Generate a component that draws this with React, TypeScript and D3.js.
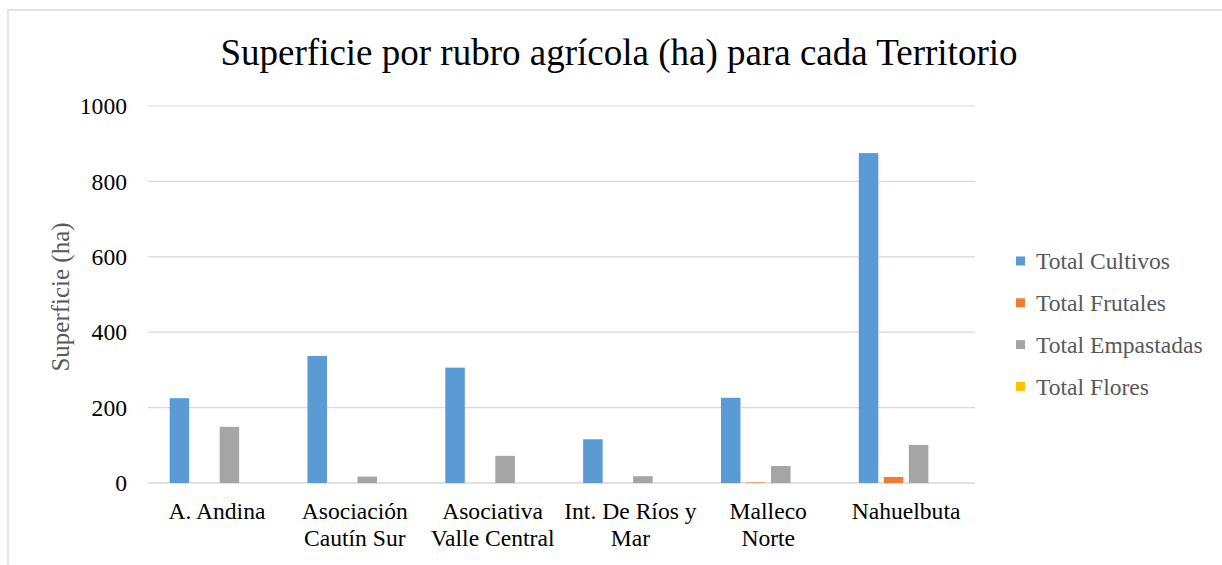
import React from "react";
import * as d3 from "d3";

const categories: string[][] = [
  ["A. Andina"],
  ["Asociación", "Cautín Sur"],
  ["Asociativa", "Valle Central"],
  ["Int. De Ríos y", "Mar"],
  ["Malleco", "Norte"],
  ["Nahuelbuta"],
];
const seriesNames = ["Total Cultivos", "Total Frutales", "Total Empastadas", "Total Flores"];
const cultivos = [225, 337, 306, 116, 226, 875];
const frutales = [0, 0, 0, 0, 1.5, 16];
const empastadas = [149, 17, 72, 18, 45, 101];
const flores = [0, 0, 0, 0, 0, 0];
const yTicks = [0, 200, 400, 600, 800, 1000];
const colors = ["#5b9bd5", "#ed7d31", "#a5a5a5", "#ffc000"];
const title = "Superficie por rubro agrícola (ha) para cada Territorio";
const yLabel = "Superficie (ha)";

const seriesValues = [cultivos, frutales, empastadas, flores];

export default function App() {
  const W = 1222, H = 565;
  const left = 148, right = 975, top = 106, bottom = 483;
  const font = "'Liberation Serif', 'Times New Roman', serif";
  const fs = 23.6;
  const x0 = d3.scaleBand<number>().domain(d3.range(categories.length)).range([left, right]).paddingInner(0.274).paddingOuter(0.137);
  const x1 = d3.scaleBand<number>().domain(d3.range(seriesNames.length)).range([0, x0.bandwidth()]).paddingInner(0.22).paddingOuter(0.11);
  const y = d3.scaleLinear().domain([0, 1000]).range([bottom, top]);
  const step = (right - left) / categories.length;

  return (
    <svg width={W} height={H} style={{ position: "fixed", left: 0, top: 0, background: "#fff" }}>
      <rect x={0} y={0} width={W} height={H} fill="#fff" />
      <path d={`M8,${H + 5} L8,10 L${W + 5},10`} fill="none" stroke="#d9d9d9" strokeWidth={1.5} />
      <text x={619} y={65} textAnchor="middle" fontFamily={font} fontSize={37} fill="#000">{title}</text>
      {yTicks.map((t) => (
        <g key={t}>
          <line x1={left} x2={right} y1={y(t)} y2={y(t)} stroke="#d9d9d9" strokeWidth={t === 0 ? 1.5 : 1.2} />
          <text x={127} y={y(t)} dy="0.35em" textAnchor="end" fontFamily={font} fontSize={fs} fill="#000">{t}</text>
        </g>
      ))}
      <text transform={`translate(69,${297}) rotate(-90)`} textAnchor="middle" fontFamily={font} fontSize={25} fill="#595959">{yLabel}</text>
      {categories.map((cat, i) => (
        <g key={i}>
          {seriesValues.map((vals, s) => {
            const v = vals[i];
            if (v <= 0) return null;
            return (
              <rect key={s} x={(x0(i) as number) + (x1(s) as number)} width={x1.bandwidth()} y={y(v)} height={bottom - y(v)} fill={colors[s]} />
            );
          })}
          {cat.map((line, k) => (
            <text key={k} x={left + step * (i + 0.5)} y={519 + k * 27} textAnchor="middle" fontFamily={font} fontSize={fs} fill="#000">{line}</text>
          ))}
        </g>
      ))}
      {seriesNames.map((n, s) => (
        <g key={n} transform={`translate(1016,${261 + s * 41.8})`}>
          <rect x={0} y={-4.5} width={9} height={9} fill={colors[s]} />
          <text x={20} y={0} dy="0.35em" fontFamily={font} fontSize={fs} fill="#595959">{n}</text>
        </g>
      ))}
    </svg>
  );
}
